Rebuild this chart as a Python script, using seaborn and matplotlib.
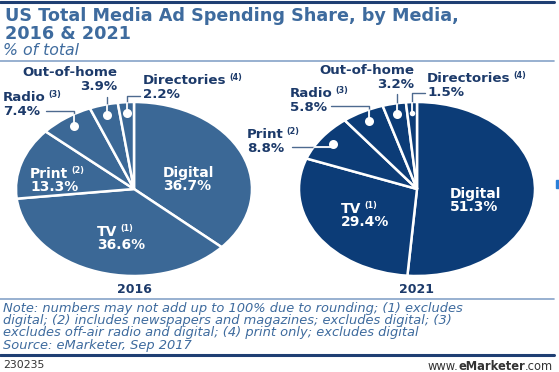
import matplotlib
matplotlib.use("Agg")
import matplotlib.pyplot as plt
from matplotlib.lines import Line2D
from matplotlib.patches import Circle, Rectangle
import seaborn as sns
import numpy as np

sns.set_theme(style="white")
plt.rcParams["font.family"] = ["DejaVu Sans"]

# данные
media = ["Digital", "TV", "Print", "Radio", "Out-of-home", "Directories"]
notes = ["", "(1)", "(2)", "(3)", "", "(4)"]
share_2016 = [36.7, 36.6, 13.3, 7.4, 3.9, 2.2]
share_2021 = [51.3, 29.4, 8.8, 5.8, 3.2, 1.5]
years = ["2016", "2021"]

title = "US Total Media Ad Spending Share, by Media,\n2016 & 2021"
subtitle = "% of total"
note_lines = [
    "Note: numbers may not add up to 100% due to rounding; (1) excludes",
    "digital; (2) includes newspapers and magazines; excludes digital; (3)",
    "excludes off-air radio and digital; (4) print only; excludes digital",
    "Source: eMarketer, Sep 2017",
]

# цвета
c2016 = "#3b6896"
c2021 = "#0c3c77"
c_title = "#3e6b9e"
c_dark = "#1c3a6a"
c_lead = "#4d6a8f"
c_thin = "#86a3c8"
c_thick = "#1f3f73"
c_foot = "#333333"

W, H = 559, 372
fig = plt.figure(figsize=(W / 100, H / 100), dpi=100)
fig.patch.set_facecolor("white")
renderer = fig.canvas.get_renderer()


def ftext(x, y, s, **kw):
    kw.setdefault("va", "top")
    return fig.text(x / W, 1 - y / H, s, **kw)


def hline(y, lw, color):
    fig.add_artist(Line2D([0, 554 / W], [1 - y / H] * 2, lw=lw, color=color))


# шапка
hline(2, 2.2, c_thick)
ftext(5, 7, title, fontsize=12.7, fontweight="bold", color=c_title, linespacing=1.0)
ftext(3, 43, subtitle, fontsize=11.3, style="italic", color=c_title)
hline(61, 1.2, c_thin)


def with_sup(x, y, name, sup, color, size, ha="left"):
    t = ftext(x, y, name, fontsize=size, fontweight="bold", color=color, ha=ha)
    if sup:
        bb = t.get_window_extent(renderer)
        ftext(bb.x1 + 3, y - 1, sup, fontsize=5.8, fontweight="bold", color=color)
    return t


def draw_pie(values, color, cx, cy, inner, outer, year):
    rx, ry = 118, 87
    ax = fig.add_axes([(cx - rx) / W, 1 - (cy + ry) / H, 2 * rx / W, 2 * ry / H])
    ax.pie(values, colors=[color] * len(values), startangle=90, counterclock=False,
           wedgeprops=dict(edgecolor="white", linewidth=1.8))
    ax.set_aspect("auto")
    ax.set_xlim(-1, 1)
    ax.set_ylim(-1, 1)
    ax.axis("off")

    vals = np.array(values)
    mid = np.cumsum(vals) - vals / 2
    ang = np.deg2rad(90 - 360 * mid / vals.sum())

    # подписи внутри
    for i, (x, y) in inner.items():
        with_sup(x, y, media[i], notes[i], "white", 10)
        ftext(x, y + 13, f"{values[i]}%", fontsize=10, fontweight="bold", color="white")

    # подписи снаружи с выносками
    clip = Circle((0, 0), 1, transform=ax.transData)
    for i, (x, y, ha, lx, ly) in outer.items():
        with_sup(x, y, media[i], notes[i], c_dark, 9.6, ha=ha)
        ftext(x, y + 14, f"{values[i]}%", fontsize=9.6, fontweight="bold", color=c_dark, ha=ha)
        r = 0.88
        dx, dy = r * np.cos(ang[i]), r * np.sin(ang[i])
        ax_ = dx if lx is None else (lx - cx) / rx
        ay = (cy - ly) / ry
        ax.plot([dx, dx, ax_], [dy, ay, ay], color=c_lead, lw=1, clip_on=False, zorder=3)
        wl = ax.plot([dx, dx, ax_], [dy, ay, ay], color="white", lw=1.3, zorder=4)[0]
        wl.set_clip_path(clip)
        ms = 4 if values[i] < 2 else 6.5
        ax.plot([dx], [dy], "o", color="white", ms=ms, mew=0, zorder=5)

    ftext(cx, 283, year, fontsize=9, fontweight="bold", color=c_dark, ha="center")
    return ax


draw_pie(share_2016, c2016, 134, 189,
         inner={0: (163, 166), 1: (97, 225), 2: (30, 167)},
         outer={3: (3, 91, "left", 46, 111),
                4: (117, 66, "right", None, 97),
                5: (143, 74, "left", 140, 96)},
         year=years[0])

draw_pie(share_2021, c2021, 417, 189,
         inner={0: (450, 187), 1: (341, 202)},
         outer={2: (247, 128, "left", 292, 147),
                3: (290, 87, "left", 331, 106),
                4: (414, 64, "right", None, 94),
                5: (427, 72, "left", 425, 93)},
         year=years[1])

hline(299, 1.2, c_thin)

ftext(3, 302, "\n".join(note_lines), fontsize=9.4, style="italic", color=c_title,
      linespacing=0.92)

hline(355, 2.2, c_thick)

# подвал
ftext(3, 360, "230235", fontsize=7.8, color=c_foot)
t = ftext(553, 360, ".com", fontsize=8.3, color=c_foot, ha="right")
bb = t.get_window_extent(renderer)
t = fig.text(bb.x0 / W, 1 - 360 / H, "eMarketer", fontsize=8.3, fontweight="bold",
             color=c_foot, ha="right", va="top")
bb = t.get_window_extent(renderer)
fig.text(bb.x0 / W, 1 - 360 / H, "www.", fontsize=8.3, color=c_foot, ha="right", va="top")

fig.add_artist(Rectangle((556 / W, 1 - 188 / H), 3 / W, 8 / H, color="#2a7fd8"))

fig.savefig("out.png", dpi=100)
